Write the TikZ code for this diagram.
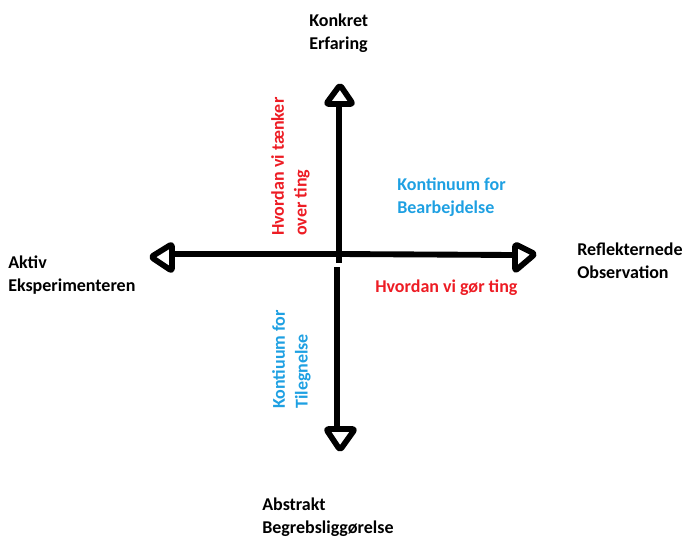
\documentclass[tikz,border=0pt]{standalone}
\usepackage{fontspec}
\setmainfont{Carlito}
\definecolor{myred}{RGB}{237,28,36}
\definecolor{myblue}{RGB}{30,160,226}
\begin{document}
\begin{tikzpicture}[x=0.75pt,y=-0.75pt,
  lbl/.style={font=\fontsize{13.5}{17}\selectfont\bfseries, align=left, inner sep=0pt, anchor=north west},
  redtxt/.style={lbl, text=myred},
  bluetxt/.style={lbl, text=myblue},
  axis/.style={line width=4.4pt, line cap=butt},
  head/.style={line width=4.3pt, line join=round, rounded corners=2pt, fill=white}]
\useasboundingbox (0,0) rectangle (684,537);
% axis coordinates
\coordinate (c) at (340,254);
\coordinate (ctop) at (339,263);
\coordinate (cbot) at (337,267);
\coordinate (top) at (339,104);
\coordinate (bot) at (337,428);
\coordinate (left) at (173,254);
\coordinate (right) at (515,255);
% axes
\draw[axis] (top) -- (ctop);
\draw[axis] (cbot) -- (bot);
\draw[axis] (left) -- (c) -- (right);
% arrowheads
\draw[head] (340,85) -- (326,104) -- (353,104) -- cycle;
\draw[head] (151,257) -- (172,244) -- (172,271) -- cycle;
\draw[head] (535,254) -- (515,244) -- (515,271) -- cycle;
\draw[head] (340,450) -- (326,429) -- (355,429) -- cycle;
% labels
\node[lbl] (konkret) at (309,14) {Konkret\\Erfaring};
\node[lbl] (aktiv) at (8,256) {Aktiv\\Eksperimenteren};
\node[lbl] (refl) at (577,243) {Reflekternede\\Observation};
\node[lbl] (abstr) at (262,498) {Abstrakt\\Begrebsliggørelse};
\node[bluetxt] (bearb) at (397,178) {Kontinuum for\\Bearbejdelse};
\node[redtxt] (gor) at (375,280) {Hvordan vi gør ting};
\node[redtxt, rotate=90] (taenk) at (271,236) {Hvordan vi tænker\\over ting};
\node[bluetxt, rotate=90] (tileg) at (272,409) {Kontiuum for\\Tilegnelse};
\end{tikzpicture}
\end{document}
